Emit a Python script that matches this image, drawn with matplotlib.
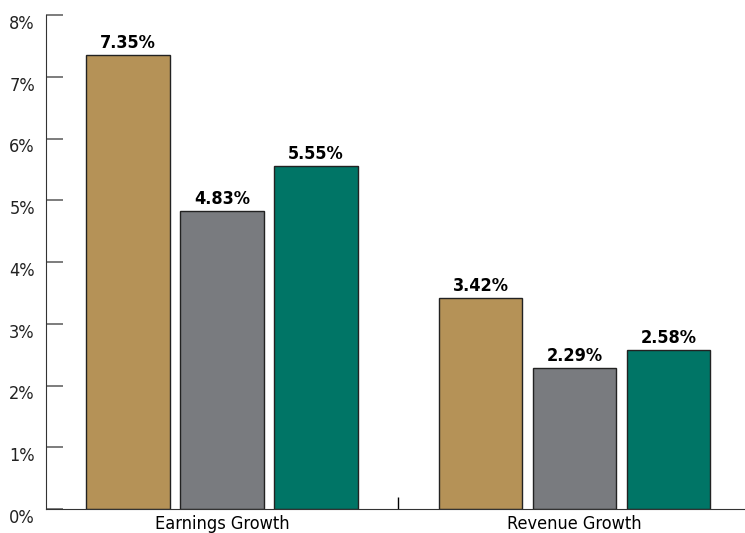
import matplotlib.pyplot as plt
import matplotlib.transforms as mtransforms
import numpy as np

plt.rcParams['font.family'] = ['DejaVu Sans']
plt.rcParams['font.stretch'] = 'condensed'

# data
groups = ['Earnings Growth', 'Revenue Growth']
series_a = [7.35, 3.42]
series_b = [4.83, 2.29]
series_c = [5.55, 2.58]
yticks = [0, 1, 2, 3, 4, 5, 6, 7, 8]

GOLD = '#B59257'
GRAY = '#797B7F'
TEAL = '#007566'

fig = plt.figure(figsize=(7.45, 5.33), dpi=100)
ax = fig.add_axes([46 / 745, 24 / 533, 699 / 745, 494 / 533])

x = np.arange(len(groups))
step = 0.2667
width = 0.238

for i, (vals, col) in enumerate([(series_a, GOLD), (series_b, GRAY), (series_c, TEAL)]):
    pos = x + (i - 1) * step
    bars = ax.bar(pos, vals, width, color=col, edgecolor='#222222', linewidth=1)
    for b, v in zip(bars, vals):
        ax.text(b.get_x() + b.get_width() / 2, v + 0.05, f'{v:.2f}%',
                ha='center', va='bottom', fontsize=13, fontweight='bold')

ax.set_xlim(-0.5, 1.484)
ax.set_ylim(0, 8)

ax.set_yticks(yticks)
ax.set_yticklabels([f'{t}%' for t in yticks], fontsize=13, color='#222222')
ax.tick_params(axis='y', direction='in', length=12.2, width=1.2, color='#666666', pad=8)
# labels sit a little below their ticks in the original
shift = mtransforms.ScaledTranslation(0, -5 / 72, fig.dpi_scale_trans)
for lbl in ax.get_yticklabels():
    lbl.set_transform(lbl.get_transform() + shift)

ax.set_xticks(x)
ax.set_xticklabels(groups, fontsize=13)
ax.tick_params(axis='x', which='major', length=0, pad=4)
ax.set_xticks([0.5], minor=True)
ax.tick_params(axis='x', which='minor', direction='in', length=8.6, width=1)

for s in ['top', 'right']:
    ax.spines[s].set_visible(False)
ax.spines['left'].set_color('#333333')
ax.spines['bottom'].set_color('#333333')

fig.savefig('out.png', dpi=100)
